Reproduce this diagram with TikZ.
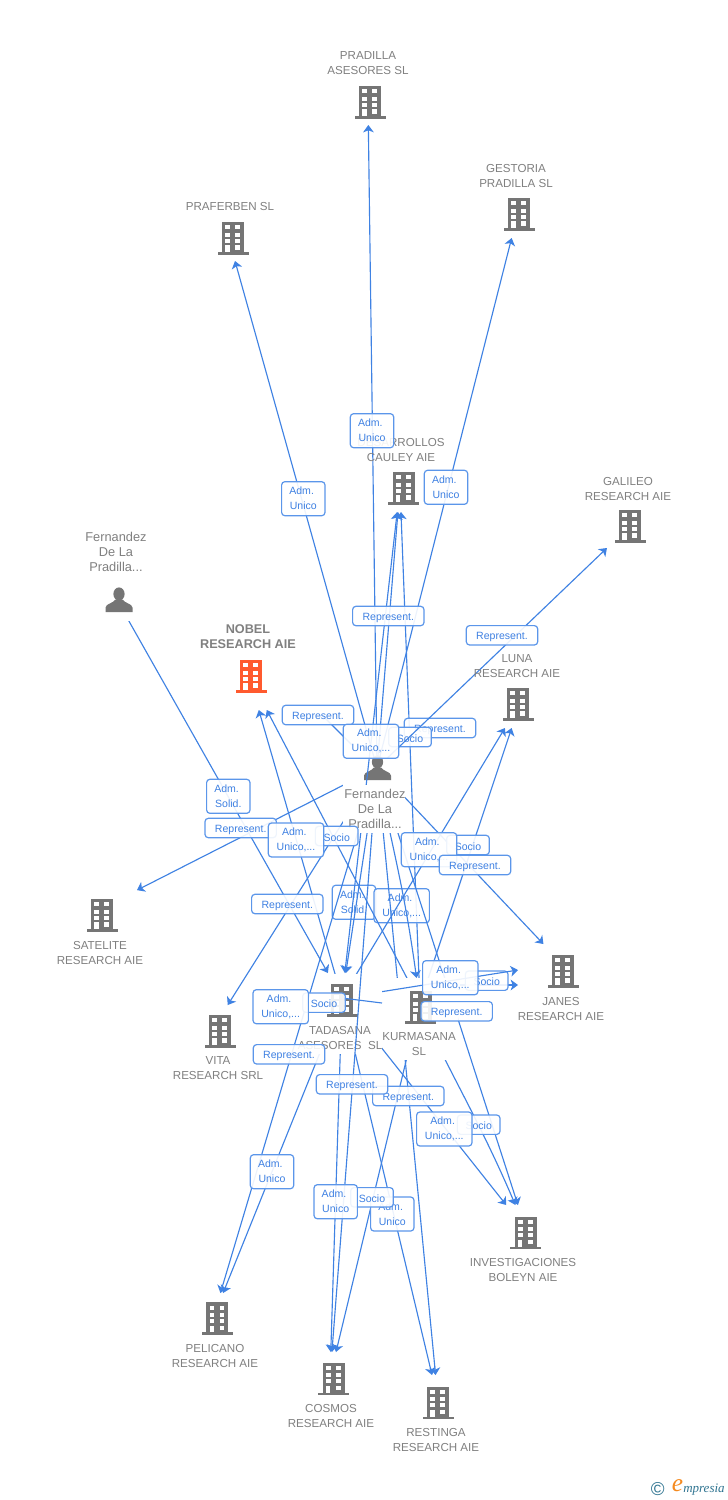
\documentclass[tikz,border=0pt]{standalone}
\usepackage{fontspec}
\setmainfont{Liberation Sans}
\newfontfamily\logofont{Liberation Serif}
\usetikzlibrary{arrows.meta}
\definecolor{edgeblue}{HTML}{3F82E3}
\definecolor{boxblue}{HTML}{5B96EA}
\definecolor{labelblue}{HTML}{3E80E2}
\definecolor{nodegray}{HTML}{808080}
\definecolor{icongray}{HTML}{757575}
\definecolor{nobelred}{HTML}{FF5A2E}
\definecolor{logoteal}{HTML}{2F7491}
\definecolor{logoorange}{HTML}{F58A1F}
\newcommand{\admw}{Adm.\hbox to 2.5pt{}}
\tikzset{
  hub/.style={rectangle,inner sep=0pt,outer sep=0pt,minimum width=67.5pt,minimum height=37.5pt},
  hubtall/.style={hub,minimum height=51pt},
  edge/.style={draw=edgeblue,line width=0.85pt,-{Stealth[length=5.5pt,width=8pt,inset=1.5pt]}},
  bothedge/.style={draw=edgeblue,line width=0.85pt,{Stealth[length=5.5pt,width=8pt,inset=1.5pt]}-{Stealth[length=5.5pt,width=8pt,inset=1.5pt]}},
  plainedge/.style={draw=edgeblue,line width=0.85pt},
  ntext/.style={text=nodegray,align=center,inner sep=0pt,font=\fontsize{8.7pt}{11.25pt}\selectfont},
  ptext/.style={ntext,font=\fontsize{9.6pt}{11.25pt}\selectfont},
  nbold/.style={ntext,font=\fontsize{9.5pt}{11.25pt}\selectfont\bfseries},
  tag/.style={draw=boxblue,line width=0.9pt,fill=white,fill opacity=.9,text opacity=1,rounded corners=2.4pt,text=labelblue,align=center,inner sep=0pt,font=\fontsize{7.9pt}{11.25pt}\selectfont,execute at begin node={\rule{0pt}{7.9pt}}},
  tagrep/.style={tag,minimum width=53.5pt,minimum height=14.5pt},
  tagsoc/.style={tag,minimum width=32pt,minimum height=14.5pt},
  tagadm/.style={tag,minimum width=32.5pt,minimum height=25.5pt},
  taguni/.style={tag,minimum width=41.5pt,minimum height=25.5pt},
  bld/.pic={
    \fill[#1] (-11,-16) rectangle (11,14);
    \fill[#1] (-15.5,14) rectangle (15.5,16.5);
    \foreach \yy in {-12.7,-5.5,0.5}{
      \fill[white] (-7.6,\yy) rectangle (-3,\yy+4.1);
      \fill[white] (2.4,\yy) rectangle (7,\yy+4.1);
    }
    \fill[white] (2.4,7.3) rectangle (7,11.6);
    \fill[white] (-7.6,7.3) rectangle (-3.4,14);
  },
  psn/.pic={
    \fill[icongray] (0,-6) ellipse (5.6 and 6.6);
    \fill[icongray] (-13.5,12) -- (-13.5,7.5) .. controls (-13,3.5) and (-6,3.5) .. (-3.5,-0.5) -- (3.5,-0.5) .. controls (6,3.5) and (13,3.5) .. (13.5,7.5) -- (13.5,12) -- cycle;
  }
}
\begin{document}
\begin{tikzpicture}[x=0.75pt,y=-0.75pt]
\useasboundingbox (0,0) rectangle (728,1500);
\fill[white] (0,0) rectangle (728,1500);
% hubs
\node[hub] (pra) at (368,100) {};
\node[hub] (prf) at (228,236) {};
\node[hub] (ges) at (518,213) {};
\node[hub] (des) at (400,487) {};
\node[hub] (gal) at (633,523) {};
\node[hub] (fp2) at (117,600) {};
\node[hubtall] (nob) at (249,676) {};
\node[hub] (lun) at (520,703) {};
\node[hub] (fer) at (377,768) {};
\node[hub] (sat) at (92,913) {};
\node[hub] (jan) at (567,969) {};
\node[hub] (vit) at (212,1030) {};
\node[hub] (tad) at (342,998) {};
\node[hub] (kur) at (420,1003) {};
\node[hub] (bol) at (526,1230) {};
\node[hub] (pel) at (213,1318) {};
\node[hub] (cos) at (330,1377) {};
\node[hub] (res) at (438,1400) {};
\coordinate (janA) at (518,970);
\coordinate (janB) at (518,985);
\coordinate (kurJ) at (460,985);
\coordinate (kurL) at (382,1003);
\coordinate (nobS) at (322,715);
\coordinate (nobE) at (352,745);
% lines beneath the first tags
\draw[edge] (kur.center) -- (des);
\draw[edge] (kurJ) -- (janB);
% first tags
\node[tagrep] (t01) at (440,728) {Represent.};
\node[tagsoc] (t02) at (410,737) {Socio};
\node[tagsoc] (t03) at (486.7,980.7) {Socio};
\node[tagadm] (t04) at (354,902.3) {\admw\\Solid.};
\node[taguni] (t05) at (401.7,905.7) {\admw\\Unico,...};
% lines
\draw[edge] (fer.center) -- (pra);
\draw[edge] (fer.center) -- (prf);
\draw[edge] (fer.center) -- (ges);
\draw[edge] (fer.center) -- (des);
\draw[edge] (fer.center) -- (gal);
\draw[edge] (fer.center) -- (sat);
\draw[edge] (fer.center) -- (vit);
\draw[edge] (fer.center) -- (tad);
\draw[edge] (fer.center) .. controls (390,840) and (403,880) .. (kur);
\draw[edge] (fer.center) -- (jan);
\draw[edge] (fer.center) -- (res);
\draw[edge] (fer.center) -- (bol);
\draw[plainedge] (nobS) -- (nobE);
\draw[edge] (fp2.center) -- (tad);
\draw[edge] (kur.center) -- (nob);
\draw[edge] (kur.center) -- (lun);
\draw[edge] (kur.center) -- (cos);
\draw[edge] (kur.center) .. controls (436,1050) and (475,1110) .. (bol);
% Kurmasana
\fill[white] (382,978) rectangle (458,1060);
\pic at (420.5,1007) {bld=icongray};
\node[ntext] (kurl) at (419,1043.5) {KURMASANA\\SL};
% lines from Tadasana
\draw[edge] (tad.center) -- (nob);
\draw[edge] (tad.center) -- (lun);
\draw[edge] (tad.center) -- (janA);
\draw[edge] (tad.center) -- (bol);
\draw[edge] (tad.center) -- (res);
\draw[edge] (tad.center) -- (cos);
\draw[edge] (tad.center) -- (pel);
% Tadasana
\fill[white] (300,974) rectangle (382,1054);
\pic at (342,1000) {bld=icongray};
\node[ntext] (tadl) at (340,1037.5) {TADASANA\\ASESORES\ \ SL};
\draw[plainedge] (kurL) -- (tad.center);
\draw[edge] (fer.center) -- (cos);
\draw[edge] (fer.center) -- (pel);
% Fernandez
\fill[white] (343,758) rectangle (405,833);
\pic at (377.5,768) {psn};
\draw[bothedge] (des) -- (tad);
\fill[white] (343,785) rectangle (405,833);
\node[ptext] (ferl) at (375,809) {Fernandez\\De La\\Pradilla...};
\fill[white] (95,530) rectangle (145,621);
\pic at (119,600) {psn};
\node[ptext] (fp2l) at (116,552) {Fernandez\\De La\\Pradilla...};
% other nodes
\pic at (370,102) {bld=icongray};
\node[ntext] (pral) at (368,63.5) {PRADILLA\\ASESORES SL};
\pic at (233,238) {bld=icongray};
\node[ntext] (prfl) at (230,207) {PRAFERBEN SL};
\pic at (519,214) {bld=icongray};
\node[ntext] (gesl) at (516,176.5) {GESTORIA\\PRADILLA SL};
\pic at (403.5,488) {bld=icongray};
\node[ntext] (desl) at (401,449.5) {DESARROLLOS\\CAULEY AIE};
\pic at (630,526) {bld=icongray};
\node[ntext] (gall) at (628,488.5) {GALILEO\\RESEARCH AIE};
\pic at (251,676) {bld=nobelred};
\node[nbold] (nobl) at (248,636.5) {NOBEL\\RESEARCH AIE};
\pic at (518,704) {bld=icongray};
\node[ntext] (lunl) at (517,666.5) {LUNA\\RESEARCH AIE};
\pic at (102,915) {bld=icongray};
\node[ntext] (satl) at (100,952.5) {SATELITE\\RESEARCH AIE};
\pic at (563,971) {bld=icongray};
\node[ntext] (janl) at (561,1008.5) {JANES\\RESEARCH AIE};
\pic at (220,1031) {bld=icongray};
\node[ntext] (vitl) at (218,1068.5) {VITA\\RESEARCH SRL};
\pic at (525.7,1232.7) {bld=icongray};
\node[ntext] (boll) at (523,1269.5) {INVESTIGACIONES\\BOLEYN AIE};
\pic at (217.3,1318.3) {bld=icongray};
\node[ntext] (pell) at (215,1355.5) {PELICANO\\RESEARCH AIE};
\pic at (333.7,1378.7) {bld=icongray};
\node[ntext] (cosl) at (331,1415.5) {COSMOS\\RESEARCH AIE};
\pic at (438,1402.7) {bld=icongray};
\node[ntext] (resl) at (436,1439.5) {RESTINGA\\RESEARCH AIE};
% top tags
\node[tagadm] (t10) at (372,430.7) {\admw\\Unico};
\node[tagadm] (t11) at (303.3,498.7) {\admw\\Unico};
\node[tagadm] (t12) at (446,487.3) {\admw\\Unico};
\node[tagrep] (t13) at (388.3,616) {Represent.};
\node[tagrep] (t14) at (502,635.3) {Represent.};
\node[tagrep] (t15) at (318,715) {Represent.};
\node[taguni] (t16) at (371,741.3) {\admw\\Unico,...};
\node[tagadm] (t17) at (228.3,796.3) {\admw\\Solid.};
\node[tagrep] (t18) at (240.7,828) {Represent.};
\node[tagsoc] (t19) at (336.7,836) {Socio};
\node[taguni] (t20) at (296,840) {\admw\\Unico,...};
\node[tagsoc] (t21) at (468,845) {Socio};
\node[taguni] (t22) at (429,849.7) {\admw\\Unico,...};
\node[tagrep] (t23) at (475,865) {Represent.};
\node[tagrep] (t24) at (287.3,904) {Represent.};
\node[taguni] (t25) at (450.3,977.7) {\admw\\Unico,...};
\node[tagrep] (t26) at (456.7,1011.3) {Represent.};
\node[tagsoc] (t27) at (324,1002.7) {Socio};
\node[taguni] (t28) at (280.7,1006.7) {\admw\\Unico,...};
\node[tagrep] (t29) at (289,1054.3) {Represent.};
\node[tagrep] (t30) at (408.3,1096) {Represent.};
\node[tagrep] (t31) at (352,1084.3) {Represent.};
\node[tagsoc] (t32) at (478.7,1124.7) {Socio};
\node[taguni] (t33) at (444.3,1129) {\admw\\Unico,...};
\node[tagadm] (t34) at (272,1171.7) {\admw\\Unico};
\node[tagadm] (t35) at (392.3,1214) {\admw\\Unico};
\node[tagsoc] (t36) at (372,1197.3) {Socio};
\node[tagadm] (t37) at (335.7,1201.7) {\admw\\Unico};
% logo
\node[text=logoteal,inner sep=0pt,font=\fontsize{14pt}{14pt}\selectfont] (lg1) at (657.7,1489) {©};
\node[text=logoorange,inner sep=0pt,font=\logofont\fontsize{19pt}{19pt}\selectfont\itshape] (lg2) at (677.5,1486) {e};
\node[text=logoteal,inner sep=0pt,anchor=west,font=\logofont\fontsize{9.75pt}{10pt}\selectfont\itshape] (lg3) at (683,1490) {mpresia};
\end{tikzpicture}
\end{document}
